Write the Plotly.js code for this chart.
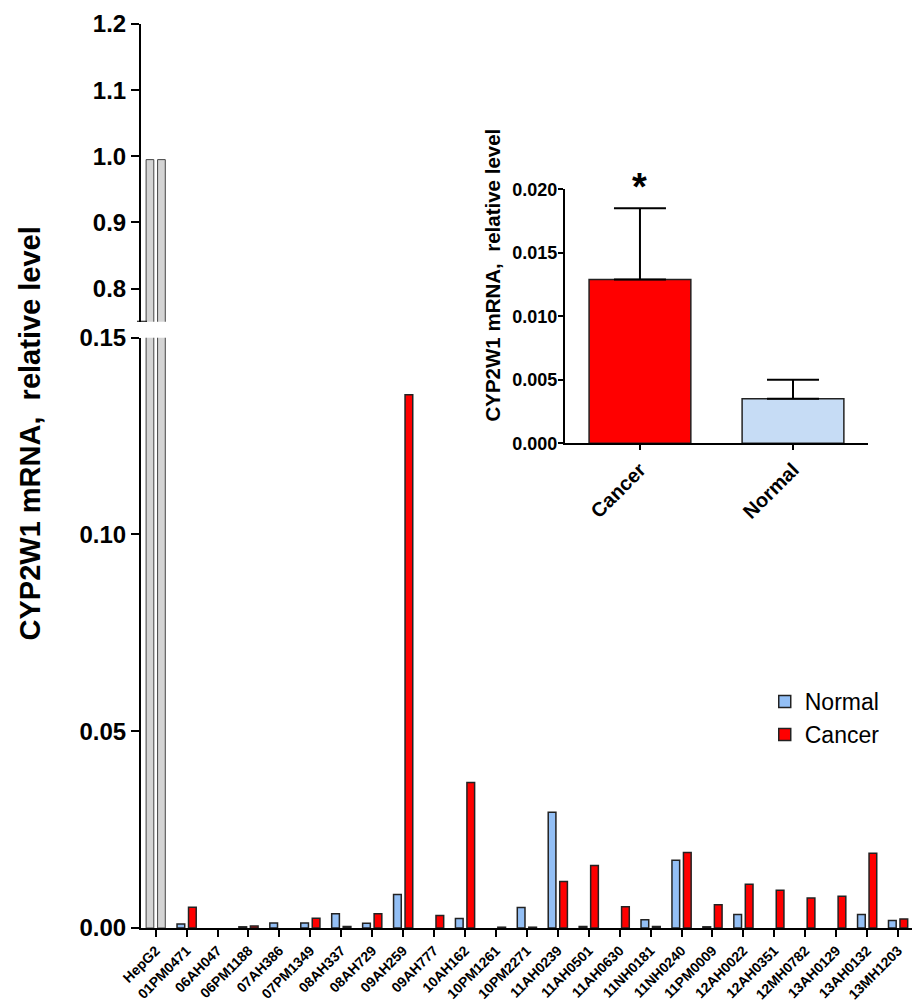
<!DOCTYPE html>
<html><head><meta charset="utf-8">
<script src="https://cdn.plot.ly/plotly-3.0.1.min.js"></script>
<style>html,body{margin:0;padding:0;background:#fff}</style>
</head><body>
<div id="chart" style="width:912px;height:1004px"></div>
<script>
// ---- data ----
const categories = ['HepG2','01PM0471','06AH047','06PM1188','07AH386','07PM1349','08AH337','08AH729','09AH259','09AH777','10AH162','10PM1261','10PM2271','11AH0239','11AH0501','11AH0630','11NH0181','11NH0240','11PM0009','12AH0022','12AH0351','12MH0782','13AH0129','13AH0132','13MH1203'];
const sampleCategories = categories.slice(1);
const normalValues = [0.0010, null, 0.0003, 0.0013, 0.0013, 0.0036, 0.0012, 0.0085, null, 0.0024, null, 0.0052, 0.0294, 0.0004, null, 0.0021, 0.0172, 0.0003, 0.0034, null, null, null, 0.0034, 0.0019];
const cancerValues = [0.0053, null, 0.0005, null, 0.0025, 0.0004, 0.0036, 0.1355, 0.0032, 0.0370, 0.0002, 0.0002, 0.0118, 0.0159, 0.0054, 0.0004, 0.0192, 0.0059, 0.0111, 0.0096, 0.0076, 0.0081, 0.0190, 0.0023];
const hepg2Label = ['HepG2'];
const hepg2First = [0.995];
const hepg2Second = [0.995];
const insetCategories = ['Cancer','Normal'];
const insetMeans = [0.0129, 0.0035];
const insetErrors = [0.0056, 0.0015];
const lowerTicks = [0, 0.05, 0.10, 0.15];
const upperTicks = [0.8, 0.9, 1.0, 1.1, 1.2];
const insetTicks = [0, 0.005, 0.010, 0.015, 0.020];
const titleText = 'CYP2W1 mRNA,\u00a0 relative level';

// ---- style ----
const F = 'Liberation Sans, Arial, Helvetica, sans-serif';
const BLUE = '#93bff5', RED = '#ff0000', GRAY = '#d4d4d4', INSET_BLUE = '#c6dcf5';
const outline = {color:'#222', width:1.5};
const grayMarker = {color:GRAY, line:{color:'#444', width:1}};

const traces = [
  {type:'bar', name:'Normal', x:sampleCategories, y:normalValues, offsetgroup:'n', xaxis:'x', yaxis:'y',
   marker:{color:BLUE, line:outline}},
  {type:'bar', name:'Cancer', x:sampleCategories, y:cancerValues, offsetgroup:'c', xaxis:'x', yaxis:'y',
   marker:{color:RED, line:outline}},
  {type:'bar', name:'HepG2', x:hepg2Label, y:hepg2First, offsetgroup:'n', xaxis:'x', yaxis:'y', showlegend:false, marker:grayMarker},
  {type:'bar', name:'HepG2', x:hepg2Label, y:hepg2Second, offsetgroup:'c', xaxis:'x', yaxis:'y', showlegend:false, marker:grayMarker},
  {type:'bar', name:'HepG2', x:hepg2Label, y:hepg2First, offsetgroup:'n', xaxis:'x', yaxis:'y2', showlegend:false, marker:grayMarker},
  {type:'bar', name:'HepG2', x:hepg2Label, y:hepg2Second, offsetgroup:'c', xaxis:'x', yaxis:'y2', showlegend:false, marker:grayMarker},
  {type:'bar', x:insetCategories, y:insetMeans, xaxis:'x3', yaxis:'y3', width:0.665, showlegend:false,
   marker:{color:[RED, INSET_BLUE], line:{color:'#222', width:1.5}},
   error_y:{type:'data', symmetric:false, array:insetErrors, arrayminus:[0,0], color:'#000', thickness:2, width:26}}
];

const axisCommon = {showline:true, linewidth:2, linecolor:'#000', ticks:'outside', tickwidth:2, tickcolor:'#000',
  showgrid:false, zeroline:false, automargin:false, fixedrange:true};

const layout = {
  width:912, height:1004,
  margin:{l:141, r:0, t:24, b:76},
  paper_bgcolor:'#fff', plot_bgcolor:'rgba(0,0,0,0)',
  font:{family:F, color:'#000'},
  barmode:'group', bargap:0.257, bargroupgap:0.33,
  showlegend:true,
  xaxis:Object.assign({}, axisCommon, {domain:[0,1], anchor:'y', type:'category', categoryorder:'array',
    categoryarray:categories, range:[-0.475,24.45], ticklen:7, tickangle:-45,
    tickfont:{family:F, size:14, weight:'bold', color:'#000'}}),
  yaxis:Object.assign({}, axisCommon, {domain:[0,0.653], anchor:'x', range:[0,0.15], tickvals:lowerTicks,
    tickformat:'.2f', ticklen:8, tickfont:{family:F, size:24, weight:'bold', color:'#000'}}),
  yaxis2:Object.assign({}, axisCommon, {domain:[0.6707,1], anchor:'x', range:[0.75,1.2], tickvals:upperTicks,
    tickformat:'.1f', ticklen:8, tickfont:{family:F, size:24, weight:'bold', color:'#000'}}),
  xaxis3:Object.assign({}, axisCommon, {domain:[0.5499,0.9429], anchor:'y3', type:'category',
    categoryorder:'array', categoryarray:insetCategories, range:[-0.49,1.49], ticklen:5, tickangle:-45,
    tickfont:{family:F, size:20, weight:'bold', color:'#000'}}),
  yaxis3:Object.assign({}, axisCommon, {domain:[0.5362,0.8172], anchor:'x3', range:[0,0.02], tickvals:insetTicks,
    tickformat:'.3f', ticklen:5, ticklabelstandoff:-3, tickfont:{family:F, size:18, weight:'bold', color:'#000'}}),
  legend:{x:0.809, xanchor:'left', y:0.2743, yanchor:'top', font:{family:F, size:23, color:'#000'},
    bgcolor:'rgba(0,0,0,0)', borderwidth:0, traceorder:'normal'},
  annotations:[
    {text:titleText, xref:'paper', yref:'paper', x:-0.1446, y:0.5465, xanchor:'center', yanchor:'middle',
     textangle:-90, showarrow:false, font:{family:F, size:29, weight:'bold', color:'#000'}},
    {text:titleText, xref:'paper', yref:'paper', x:0.4553, y:0.7218, xanchor:'center', yanchor:'middle',
     textangle:-90, showarrow:false, font:{family:F, size:20.5, weight:'bold', color:'#000'}},
    {text:'*', xref:'x3', yref:'paper', x:'Cancer', y:0.8202, xanchor:'center', yanchor:'middle', showarrow:false,
     font:{family:F, size:38, weight:'bold', color:'#000'}}
  ],
  shapes:[
    {type:'line', xref:'paper', yref:'y2', x0:-0.0052, x1:0.0078, y0:0.75, y1:0.75, line:{color:'#000', width:2}}
  ]
};

Plotly.newPlot('chart', traces, layout, {staticPlot:true, displayModeBar:false});
</script>
</body></html>
